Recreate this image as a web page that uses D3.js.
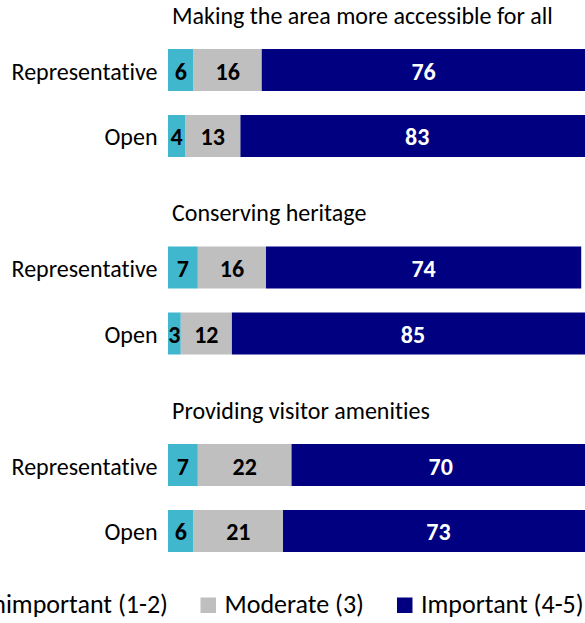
<!DOCTYPE html>
<html>
<head>
<meta charset="utf-8">
<script src="https://cdn.jsdelivr.net/npm/d3@7"></script>
<style>
  html, body { margin: 0; padding: 0; background: #fff; overflow: hidden; }
  svg { display: block; font-family: Carlito, Calibri, Lato, sans-serif; font-variant-ligatures: none; font-kerning: normal; }
</style>
</head>
<body>
<svg id="chart" width="585" height="623"></svg>
<script>
// Survey statements and respondent groups
const statements = [
  "Making the area more accessible for all",
  "Conserving heritage",
  "Providing visitor amenities"
];
const samples = ["Representative", "Open"];

// Share of respondents (%) per statement, in sample order (Representative, Open)
const unimportant = [6, 4, 7, 3, 7, 6];
const moderate    = [16, 13, 16, 12, 22, 21];
const important   = [76, 83, 74, 85, 70, 73];

const seriesNames = ["Unimportant (1-2)", "Moderate (3)", "Important (4-5)"];
const seriesColors = ["#41B7CE", "#BFBFBF", "#000080"];
const labelColors = ["#000", "#000", "#fff"];

const rows = [];
statements.forEach((s, gi) => {
  samples.forEach((smp, si) => {
    const i = gi * samples.length + si;
    rows.push({ statement: s, sample: smp, values: [unimportant[i], moderate[i], important[i]] });
  });
});

const svg = d3.select("#chart");
const fontSize = 24;
const legendFontSize = 26;

const x = d3.scaleLinear().domain([0, 100]).range([168, 594]);
const yGroup = d3.scaleBand().domain(statements).range([0, 592.5]);
const yRow = d3.scaleBand().domain(samples).range([49, 157]).paddingInner(0.3636).paddingOuter(0);

const groups = svg.selectAll("g.group")
  .data(statements)
  .join("g")
  .attr("class", "group")
  .attr("transform", d => `translate(0,${yGroup(d)})`);

// Statement headings
groups.append("text")
  .attr("x", 172)
  .attr("y", 23.5)
  .attr("font-size", fontSize)
  .attr("fill", "#000")
  .text(d => d);

const rowG = groups.selectAll("g.row")
  .data(s => rows.filter(r => r.statement === s))
  .join("g")
  .attr("class", "row")
  .attr("transform", d => `translate(0,${yRow(d.sample)})`);

// Sample labels
rowG.append("text")
  .attr("x", 157.5)
  .attr("y", yRow.bandwidth() / 2 + 9.5)
  .attr("text-anchor", "end")
  .attr("font-size", fontSize)
  .attr("fill", "#000")
  .text(d => d.sample);

// Stacked segments
const segs = rowG.selectAll("g.seg")
  .data(d => {
    let acc = 0;
    return d.values.map((v, k) => {
      const s = { k, v, x0: acc, x1: acc + v };
      acc += v;
      return s;
    });
  })
  .join("g")
  .attr("class", "seg");

segs.append("rect")
  .attr("x", d => x(d.x0))
  .attr("width", d => x(d.x1) - x(d.x0))
  .attr("y", 0)
  .attr("height", yRow.bandwidth())
  .attr("fill", d => seriesColors[d.k]);

segs.append("text")
  .attr("x", d => (x(d.x0) + x(d.x1)) / 2)
  .attr("y", yRow.bandwidth() / 2 + 9.5)
  .attr("text-anchor", "middle")
  .attr("font-size", fontSize)
  .attr("font-weight", "bold")
  .attr("fill", d => labelColors[d.k])
  .text(d => d.v);

// Legend along the bottom
const legendBase = 613;
const box = 15.5, gap = 8.5;
const legend = svg.append("g").attr("class", "legend");
// first entry ends just before the second swatch; later entries flow rightwards
const firstEnd = 168;
const t0 = legend.append("text")
  .attr("x", firstEnd).attr("y", legendBase)
  .attr("text-anchor", "end").attr("font-size", legendFontSize).text(seriesNames[0]);
const w0 = t0.node().getComputedTextLength();
legend.append("rect")
  .attr("x", firstEnd - w0 - gap - box).attr("y", legendBase - box)
  .attr("width", box).attr("height", box).attr("fill", seriesColors[0]);

let cx = 200.5;
for (let k = 1; k < seriesNames.length; k++) {
  legend.append("rect")
    .attr("x", cx).attr("y", legendBase - box)
    .attr("width", box).attr("height", box).attr("fill", seriesColors[k]);
  const t = legend.append("text")
    .attr("x", cx + box + gap).attr("y", legendBase)
    .attr("font-size", legendFontSize).text(seriesNames[k]);
  cx += box + gap + t.node().getComputedTextLength() + 33;
}
</script>
</body>
</html>
